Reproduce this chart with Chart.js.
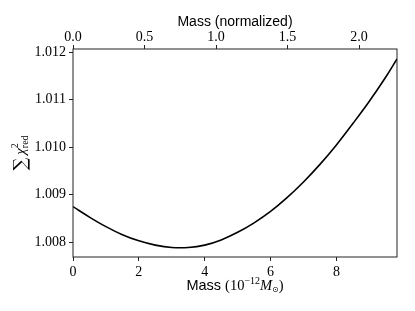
<!DOCTYPE html>
<html>
<head>
<meta charset="utf-8">
<script src="https://cdn.jsdelivr.net/npm/chart.js@4"></script>
<style>
  body { margin: 0; background: #fff; }
  #wrap { width: 415px; height: 311px; }
</style>
</head>
<body>
<div id="wrap"><canvas id="chiChart"></canvas></div>
<script>
// --- DATA ---
const mass = [0, 0.5, 1.0, 1.5, 2.0, 2.5, 3.0, 3.5, 4.0, 4.5, 5.0, 5.5, 6.0, 6.5, 7.0, 7.5, 8.0, 8.5, 9.0, 9.5, 9.84];
const chiSum = [1.00875, 1.00853, 1.00833, 1.00816, 1.00803, 1.00794, 1.00789, 1.00789, 1.00794, 1.00805, 1.00821,
                1.00841, 1.00865, 1.00894, 1.00927, 1.00964, 1.01005, 1.01050, 1.01097, 1.01148, 1.01186];
const massRange = [0, 9.84];
const normalizedRange = [0, 2.265];
const chiRange = [1.00769, 1.01207];

const serif = '"Liberation Serif", "DejaVu Serif", serif';
const sans = '"Liberation Sans", Arial, sans-serif';

// rich text for the two math-style axis titles
const bottomTitle = [
    { t: 'Mass ', font: '14.5px ' + sans },
    { t: '(10', font: '14.5px ' + serif },
    { t: '\u221212', font: '10px ' + serif, dy: -5 },
    { t: 'M', font: 'italic 14.5px ' + serif },
    { t: '\u2299', font: '8px "DejaVu Sans"', dy: 4 },
    { t: ')', font: '14.5px ' + serif }
];
const leftTitle = [
    { t: '\u2211', font: '18px "DejaVu Serif"', gap: 3 },
    { t: '\u03c7', font: 'italic 15px ' + serif },
    { t: '2', font: '10px ' + serif, dy: -6, over: true },
    { t: 'red', font: '10px ' + serif, dy: 4 }
];

function drawRich(ctx, parts, cx, cy, rot) {
    ctx.save();
    ctx.translate(cx, cy);
    ctx.rotate(rot);
    let total = 0;
    parts.forEach(p => {
        ctx.font = p.font;
        p.w = ctx.measureText(p.t).width;
        if (!p.over) total += p.w + (p.gap || 0);
    });
    let x = -total / 2;
    ctx.textBaseline = 'middle';
    ctx.textAlign = 'left';
    ctx.fillStyle = '#000';
    parts.forEach(p => {
        ctx.font = p.font;
        ctx.fillText(p.t, x, p.dy || 0);
        if (!p.over) x += p.w + (p.gap || 0);
    });
    ctx.restore();
}

const framePlugin = {
    id: 'framePlugin',
    afterDraw(chart) {
        const ctx = chart.ctx;
        const a = chart.chartArea;
        ctx.save();
        ctx.strokeStyle = '#222';
        ctx.lineWidth = 1;
        ctx.strokeRect(a.left, a.top, a.right - a.left, a.bottom - a.top);
        ctx.restore();
        drawRich(ctx, bottomTitle, (a.left + a.right) / 2, 286, 0);
        drawRich(ctx, leftTitle, 21, (a.top + a.bottom) / 2, -Math.PI / 2);
    }
};

const tickGrid = {
    drawOnChartArea: false,
    drawTicks: true,
    tickLength: 4,
    tickColor: '#222',
    tickWidth: 1
};

const ctx = document.getElementById('chiChart').getContext('2d');
new Chart(ctx, {
    type: 'line',
    data: {
        datasets: [{
            data: mass.map((m, i) => ({ x: m, y: chiSum[i] })),
            borderColor: '#000',
            borderWidth: 1.6,
            pointRadius: 0,
            tension: 0.4,
            fill: false,
            xAxisID: 'x',
            yAxisID: 'y'
        }]
    },
    options: {
        responsive: true,
        maintainAspectRatio: false,
        animation: false,
        layout: { padding: { left: 0, right: 18, top: 0, bottom: 0 } },
        plugins: { legend: { display: false }, tooltip: { enabled: false } },
        scales: {
            x: {
                type: 'linear',
                position: 'bottom',
                min: massRange[0],
                max: massRange[1],
                afterFit: s => { s.height = 54; },
                border: { display: false },
                grid: tickGrid,
                ticks: {
                    stepSize: 2,
                    includeBounds: false,
                    autoSkip: false,
                    maxRotation: 0,
                    padding: 3,
                    color: '#000',
                    font: { family: serif, size: 14 },
                    callback: v => v.toFixed(0)
                }
            },
            x2: {
                type: 'linear',
                position: 'top',
                min: normalizedRange[0],
                max: normalizedRange[1],
                afterFit: s => { s.height = 49; },
                border: { display: false },
                grid: tickGrid,
                title: {
                    display: true,
                    text: 'Mass (normalized)',
                    color: '#000',
                    font: { family: sans, size: 14 },
                    padding: { top: 14, bottom: 0 }
                },
                ticks: {
                    stepSize: 0.5,
                    includeBounds: false,
                    autoSkip: false,
                    maxRotation: 0,
                    padding: -1,
                    color: '#000',
                    font: { family: serif, size: 14 },
                    callback: v => v.toFixed(1)
                }
            },
            y: {
                type: 'linear',
                position: 'left',
                min: chiRange[0],
                max: chiRange[1],
                afterFit: s => { s.width = 73; },
                border: { display: false },
                grid: tickGrid,
                ticks: {
                    stepSize: 0.001,
                    includeBounds: false,
                    autoSkip: false,
                    padding: 3,
                    color: '#000',
                    font: { family: serif, size: 14 },
                    callback: v => v.toFixed(3)
                }
            }
        }
    },
    plugins: [framePlugin]
});
</script>
</body>
</html>
